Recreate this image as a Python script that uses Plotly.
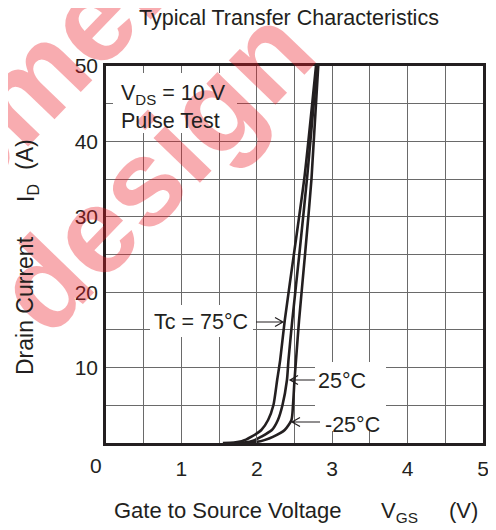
import plotly.graph_objects as go

# ---- data ----
vgs_75 = [1.55, 1.70, 1.80, 1.93, 2.06, 2.15, 2.22, 2.27, 2.31, 2.37, 2.50, 2.635, 2.785]
id_75 = [0, 0.06, 0.22, 0.84, 1.72, 3.05, 5.0, 8.36, 11.0, 16.2, 25.6, 35.5, 50]
vgs_25 = [1.70, 1.85, 1.95, 2.06, 2.20, 2.28, 2.34, 2.40, 2.42, 2.47, 2.57, 2.67, 2.80]
id_25 = [0, 0.08, 0.30, 0.84, 1.72, 3.05, 5.0, 8.36, 11.0, 16.2, 25.6, 35.5, 50]
vgs_m25 = [1.85, 2.00, 2.10, 2.22, 2.37, 2.46, 2.48, 2.50, 2.52, 2.56, 2.645, 2.725, 2.815]
id_m25 = [0, 0.15, 0.38, 0.84, 1.72, 3.05, 5.0, 8.36, 11.0, 16.2, 25.6, 35.0, 50]

x_ticks = [0, 0.5, 1, 1.5, 2, 2.5, 3, 3.5, 4, 4.5, 5]
x_ticktext = [" ", " ", "1", " ", "2", " ", "3", " ", "4", " ", "5"]
y_ticks = [0, 5, 10, 15, 20, 25, 30, 35, 40, 45, 50]
y_ticktext = [" ", " ", "10", " ", "20", " ", "30", " ", "40", " ", "50"]

# page body has an 8px margin: work in reference-pixel coords and subtract it
OFF = 8
W, H = 496 - OFF, 530 - OFF
L, R, T, B = 106, 483, 66, 443          # plot frame in reference pixels
XMAX, YMAX = 5, 50
INK = "#231f20"
GRID = "#6a6a6a"
FONT = "Liberation Sans, Arial, sans-serif"


def dx(px):
    return (px - L) / (R - L) * XMAX


def dy(py):
    return (B - py) / (B - T) * YMAX


def px_(px):
    return (px - L) / (R - L)


def py_(py):
    return (B - py) / (B - T)


fig = go.Figure()
for xs, ys in [(vgs_75, id_75), (vgs_25, id_25), (vgs_m25, id_m25)]:
    fig.add_trace(go.Scatter(x=xs, y=ys, mode="lines",
                             line=dict(color=INK, width=2.6, shape="spline", smoothing=0.6),
                             showlegend=False, hoverinfo="skip"))

shapes = []
# white boxes behind labels (hide grid)
for (a, b, c, d) in [(L + 1, 237, T + 1, 133), (150, 253, 305, 337), (315, 386, 362, 431)]:
    shapes.append(dict(type="rect", xref="x", yref="y", x0=dx(a), x1=dx(b), y0=dy(d), y1=dy(c),
                       fillcolor="white", line=dict(width=0), layer="between"))


def arrow(x_from, x_to, y):
    sgn = 1 if x_to > x_from else -1
    path = (f"M {dx(x_from)},{dy(y)} L {dx(x_to)},{dy(y)} "
            f"M {dx(x_to - sgn*8)},{dy(y - 4.5)} L {dx(x_to)},{dy(y)} L {dx(x_to - sgn*8)},{dy(y + 4.5)}")
    return dict(type="path", xref="x", yref="y", path=path,
                line=dict(color=INK, width=1.2), layer="above")


shapes.append(arrow(256, 283, 322))
shapes.append(arrow(315, 290, 380))
shapes.append(arrow(320, 292, 422))

ann = []


def label(text, x, y, angle=0, anchor="center", size=21.5, color=INK):
    ann.append(dict(text=text, x=px_(x), y=py_(y), xref="paper", yref="paper", textangle=angle,
                    xanchor=anchor, yanchor="middle", showarrow=False,
                    font=dict(size=size, color=color, family=FONT)))


# watermark (drawn first, so chart text sits on top)
WM = "rgba(235,25,35,0.36)"
label("<b>element</b>", 34, 80, angle=-46, size=122, color=WM)
label("<b>design</b>", 154, 170, angle=-46, size=122, color=WM)

label("Typical Transfer Characteristics", 289, 18)
label("0", 96, 465, size=21)
label("V<sub>DS</sub> = 10 V", 119, 95, anchor="left")
label("Pulse Test", 119, 121, anchor="left")
label("Tc = 75°C", 201, 322)
label("25°C", 342, 381)
label("-25°C", 352, 425)
# axis titles
label("Gate to Source Voltage", 228, 510, size=22)
label("V<sub>GS</sub>", 399, 512, size=22)
label("(V)", 463, 510, size=22)
label("Drain Current", 25, 306, angle=-90, size=23)
label("I<sub>D</sub>", 27, 193, angle=-90, size=23)
label("(A)", 25, 155, angle=-90, size=23)

axis_common = dict(showgrid=True, gridcolor=GRID, gridwidth=1.2, zeroline=False,
                   showline=True, linecolor=INK, linewidth=2.6, mirror="ticks",
                   ticks="inside", ticklen=7, tickcolor=GRID, tickwidth=1.2,
                   tickfont=dict(size=21, color=INK, family=FONT))

fig.update_layout(
    width=W, height=H,
    margin=dict(l=L - OFF, r=W - (R - OFF), t=T - OFF, b=H - (B - OFF), autoexpand=False),
    paper_bgcolor="white", plot_bgcolor="white",
    xaxis=dict(range=[0, XMAX], tickvals=x_ticks, ticktext=x_ticktext, ticklabelstandoff=5, **axis_common),
    yaxis=dict(range=[0, YMAX], tickvals=y_ticks, ticktext=y_ticktext, ticklabelstandoff=1, **axis_common),
    shapes=shapes, annotations=ann,
)

fig.write_html("out.html")
